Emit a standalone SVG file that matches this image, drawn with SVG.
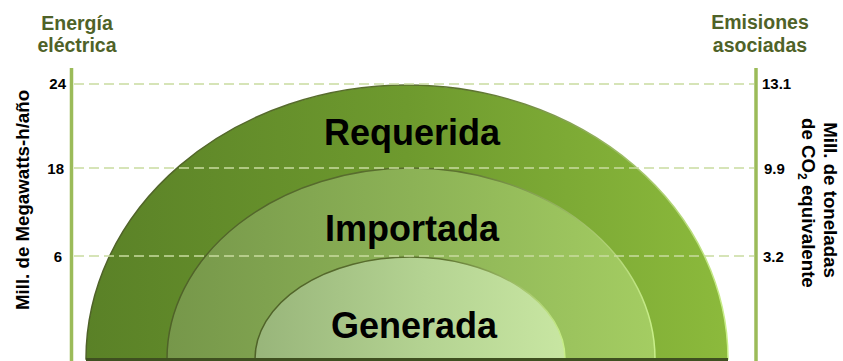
<svg xmlns="http://www.w3.org/2000/svg" width="843" height="361" viewBox="0 0 843 361">
<defs>
<linearGradient id="gOuter" x1="0" y1="0" x2="1" y2="0">
<stop offset="0" stop-color="#5a8127"/><stop offset="0.5" stop-color="#6e9a2e"/><stop offset="1" stop-color="#8cba3c"/>
</linearGradient>
<linearGradient id="gMid" x1="0" y1="0" x2="1" y2="0">
<stop offset="0" stop-color="#76974a"/><stop offset="0.5" stop-color="#8cb256"/><stop offset="1" stop-color="#a4cd62"/>
</linearGradient>
<linearGradient id="gIn" x1="0" y1="0" x2="1" y2="0">
<stop offset="0" stop-color="#98b57a"/><stop offset="0.55" stop-color="#b4d392"/><stop offset="1" stop-color="#c8e6a2"/>
</linearGradient>
<linearGradient id="gEdge" x1="0" y1="0" x2="1" y2="0">
<stop offset="0" stop-color="#4f6228"/><stop offset="0.6" stop-color="#5d7330"/><stop offset="1" stop-color="#c9ef8a"/>
</linearGradient>
</defs>
<style>
.hdr{font-family:"Liberation Sans",Arial,sans-serif;font-weight:bold;font-size:19.5px;fill:#4f6228;text-anchor:middle}
.tick{font-family:"Liberation Sans",Arial,sans-serif;font-weight:bold;font-size:15px;fill:#000}
.ax{font-family:"Liberation Sans",Arial,sans-serif;font-weight:bold;font-size:18.7px;fill:#000}
.lbl{font-family:"Liberation Sans",Arial,sans-serif;font-weight:bold;font-size:36px;fill:#000;text-anchor:middle}
.axis{stroke:#9bbb59;stroke-width:3.5;fill:none}
.dash{stroke:#c9dca0;stroke-width:1.6;stroke-dasharray:10 5;fill:none}
.arc{stroke:url(#gEdge);stroke-width:1.5}
</style>
<g id="requerida">
<path class="arc" d="M86,359 A321,274 0 0 1 728,359 Z" fill="url(#gOuter)"/>
<text class="lbl" x="412" y="145">Requerida</text>
</g>
<g id="importada">
<path class="arc" d="M167,359 A244,191 0 0 1 655,359 Z" fill="url(#gMid)"/>
<text class="lbl" x="412" y="241">Importada</text>
</g>
<g id="generada">
<path class="arc" d="M255,359 A155,102 0 0 1 565,359 Z" fill="url(#gIn)"/>
<text class="lbl" x="414" y="338">Generada</text>
</g>
<rect x="86" y="358" width="642" height="3" fill="#3f5020"/>
<g id="connectors">
<line class="dash" x1="74" y1="84" x2="754" y2="84"/>
<line class="dash" x1="74" y1="168" x2="754" y2="168"/>
<line class="dash" x1="74" y1="256" x2="754" y2="256"/>
<line class="axis" x1="71.5" y1="68" x2="71.5" y2="361"/>
<line class="axis" x1="756" y1="68" x2="756" y2="361"/>
</g>
<g id="left-axis">
<text class="hdr" x="77" y="30">Energía</text>
<text class="hdr" x="77" y="52">eléctrica</text>
<text class="tick" x="66" y="89" text-anchor="end">24</text>
<text class="tick" x="64" y="174" text-anchor="end">18</text>
<text class="tick" x="62" y="262" text-anchor="end">6</text>
<text class="ax" transform="translate(29,200) rotate(-90)" text-anchor="middle">Mill. de Megawatts-h/año</text>
</g>
<g id="right-axis">
<text class="hdr" x="760" y="29">Emisiones</text>
<text class="hdr" x="760" y="52">asociadas</text>
<text class="tick" x="762" y="89">13.1</text>
<text class="tick" x="764" y="174">9.9</text>
<text class="tick" x="763" y="262">3.2</text>
<text class="ax" transform="translate(824,200) rotate(90)" text-anchor="middle">Mill. de toneladas</text>
<text class="ax" transform="translate(802,118) rotate(90)">de CO<tspan font-size="12" dy="4">2</tspan><tspan dy="-4"> equivalente</tspan></text>
</g>
</svg>
